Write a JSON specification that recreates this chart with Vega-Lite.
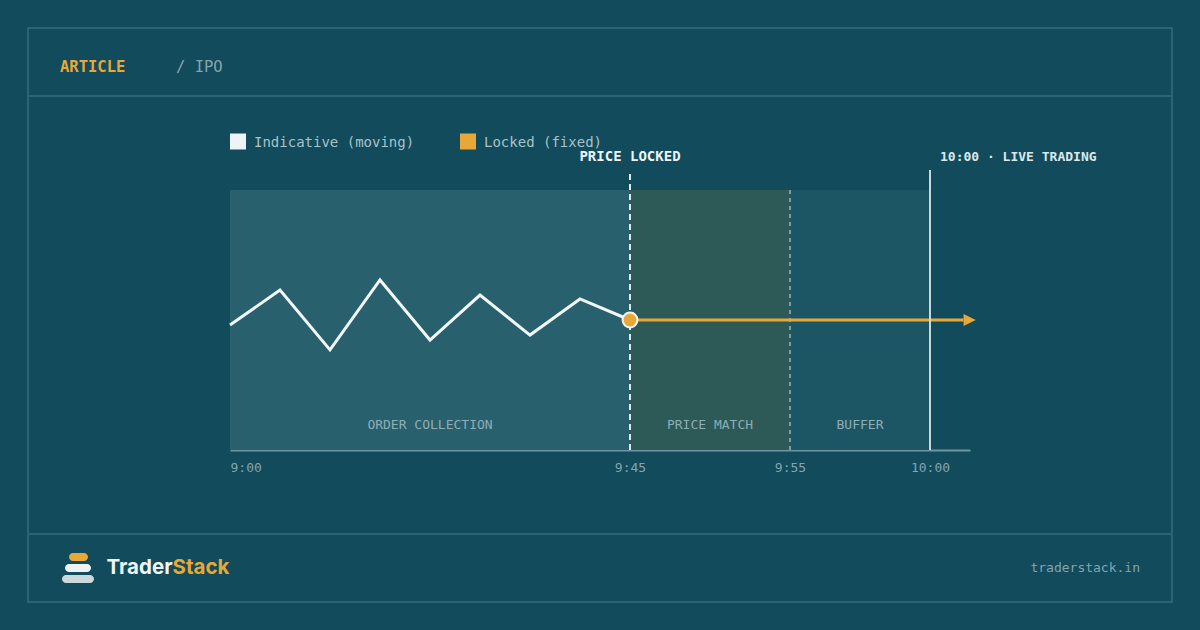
{
  "$schema": "https://vega.github.io/schema/vega-lite/v6.json",
  "width": 1200,
  "height": 630,
  "autosize": "none",
  "padding": 0,
  "background": "#114b5c",
  "config": {"view": {"stroke": null}, "text": {"font": "DejaVu Sans Mono"}},
  "datasets": {
    "price": [
      {"t": 0, "value": 48.1, "series": "Indicative"},
      {"t": 5.625, "value": 61.5, "series": "Indicative"},
      {"t": 11.25, "value": 38.5, "series": "Indicative"},
      {"t": 16.875, "value": 65.4, "series": "Indicative"},
      {"t": 22.5, "value": 42.3, "series": "Indicative"},
      {"t": 28.125, "value": 59.6, "series": "Indicative"},
      {"t": 33.75, "value": 44.2, "series": "Indicative"},
      {"t": 39.375, "value": 58.1, "series": "Indicative"},
      {"t": 45, "value": 50, "series": "Indicative"},
      {"t": 45, "value": 50, "series": "Locked"},
      {"t": 61.2, "value": 50, "series": "Locked"}
    ],
    "phases": [
      {"phase": "Order collection", "start": 0, "end": 45, "mid": 22.5, "lo": 0, "hi": 100, "label": "ORDER COLLECTION"},
      {"phase": "Price match", "start": 45, "end": 55, "mid": 50, "lo": 0, "hi": 100, "label": "PRICE MATCH"},
      {"phase": "Buffer", "start": 55, "end": 60, "mid": 57.5, "lo": 0, "hi": 100, "label": "BUFFER"}
    ],
    "markers": [
      {"t": 45, "base": 0, "top": 107.7, "kind": "lock"},
      {"t": 55, "base": 0, "top": 100, "kind": "match"},
      {"t": 60, "base": 0, "top": 107.7, "kind": "live"}
    ],
    "notes": [
      {"t": 45, "top": 100, "label": "PRICE LOCKED", "kind": "lock"},
      {"t": 60, "top": 100, "label": "10:00 · LIVE TRADING", "kind": "live"}
    ],
    "frame": [{"x": 28, "x2": 1172, "y": 28, "y2": 602}],
    "dividers": [{"x": 28, "x2": 1172, "y": 96}, {"x": 28, "x2": 1172, "y": 534}],
    "logo": [
      {"part": "top", "x": 69, "x2": 88, "y": 553, "y2": 561},
      {"part": "middle", "x": 65, "x2": 91, "y": 564, "y2": 572},
      {"part": "bottom", "x": 62, "x2": 94, "y": 575, "y2": 583}
    ],
    "legendKeys": [
      {"x": 238, "y": 141.5, "series": "Indicative"},
      {"x": 468, "y": 141.5, "series": "Locked"}
    ],
    "texts": [
      {"text": "ARTICLE", "x": 60, "y": 67, "role": "kicker"},
      {"text": "/ IPO", "x": 176, "y": 67, "role": "crumb"},
      {"text": "Indicative (moving)", "x": 254, "y": 142.5, "role": "legend"},
      {"text": "Locked (fixed)", "x": 484, "y": 142.5, "role": "legend"},
      {"text": "traderstack.in", "x": 1140, "y": 568, "role": "url"},
      {"text": "Trader", "x": 172.5, "y": 568, "role": "brand1"},
      {"text": "Stack", "x": 172.5, "y": 568, "role": "brand2"}
    ]
  },
  "resolve": {"scale": {"x": "independent", "y": "independent", "color": "independent", "fill": "independent"}},
  "layer": [
    {
      "layer": [
        {
          "data": {"name": "frame"},
          "mark": {"type": "rect", "fill": "transparent", "stroke": "#2a6575", "strokeWidth": 2},
          "encoding": {
            "x": {"field": "x", "type": "quantitative", "scale": {"domain": [0, 1200], "range": [0, 1200], "nice": false, "zero": false}, "axis": null},
            "x2": {"field": "x2"},
            "y": {"field": "y", "type": "quantitative", "scale": {"domain": [0, 630], "range": [0, 630], "nice": false, "zero": false}, "axis": null},
            "y2": {"field": "y2"}
          }
        },
        {
          "data": {"name": "dividers"},
          "mark": {"type": "rule", "stroke": "#2a6575", "strokeWidth": 2},
          "encoding": {
            "x": {"field": "x", "type": "quantitative", "axis": null},
            "x2": {"field": "x2"},
            "y": {"field": "y", "type": "quantitative", "axis": null}
          }
        },
        {
          "data": {"name": "logo"},
          "mark": {"type": "rect", "cornerRadius": 4},
          "encoding": {
            "x": {"field": "x", "type": "quantitative", "axis": null},
            "x2": {"field": "x2"},
            "y": {"field": "y", "type": "quantitative", "axis": null},
            "y2": {"field": "y2"},
            "fill": {"field": "part", "type": "nominal", "scale": {"domain": ["top", "middle", "bottom"], "range": ["#e8a838", "#eef4f5", "#cdd8db"]}, "legend": null}
          }
        },
        {
          "data": {"name": "legendKeys"},
          "mark": {"type": "point", "shape": "square", "filled": true, "size": 256, "opacity": 1},
          "encoding": {
            "x": {"field": "x", "type": "quantitative", "axis": null},
            "y": {"field": "y", "type": "quantitative", "axis": null},
            "color": {"field": "series", "type": "nominal", "scale": {"domain": ["Indicative", "Locked"], "range": ["#eef4f5", "#e8a838"]}, "legend": null}
          }
        },
        {
          "data": {"name": "texts"},
          "transform": [{"filter": "datum.role == 'kicker'"}],
          "mark": {"type": "text", "font": "DejaVu Sans Mono", "fontWeight": "bold", "fontSize": 15.5, "color": "#e8a838", "align": "left", "baseline": "middle"},
          "encoding": {"x": {"field": "x", "type": "quantitative", "axis": null}, "y": {"field": "y", "type": "quantitative", "axis": null}, "text": {"field": "text", "type": "nominal"}}
        },
        {
          "data": {"name": "texts"},
          "transform": [{"filter": "datum.role == 'crumb'"}],
          "mark": {"type": "text", "font": "DejaVu Sans Mono", "fontSize": 15.5, "color": "#86a5ad", "align": "left", "baseline": "middle"},
          "encoding": {"x": {"field": "x", "type": "quantitative", "axis": null}, "y": {"field": "y", "type": "quantitative", "axis": null}, "text": {"field": "text", "type": "nominal"}}
        },
        {
          "data": {"name": "texts"},
          "transform": [{"filter": "datum.role == 'legend'"}],
          "mark": {"type": "text", "font": "DejaVu Sans Mono", "fontSize": 14, "color": "#a9c2c8", "align": "left", "baseline": "middle"},
          "encoding": {"x": {"field": "x", "type": "quantitative", "axis": null}, "y": {"field": "y", "type": "quantitative", "axis": null}, "text": {"field": "text", "type": "nominal"}}
        },
        {
          "data": {"name": "texts"},
          "transform": [{"filter": "datum.role == 'url'"}],
          "mark": {"type": "text", "font": "DejaVu Sans Mono", "fontSize": 13, "color": "#86a5ad", "align": "right", "baseline": "middle"},
          "encoding": {"x": {"field": "x", "type": "quantitative", "axis": null}, "y": {"field": "y", "type": "quantitative", "axis": null}, "text": {"field": "text", "type": "nominal"}}
        },
        {
          "data": {"name": "texts"},
          "transform": [{"filter": "datum.role == 'brand1'"}],
          "mark": {"type": "text", "font": "Inter", "fontWeight": "bold", "fontSize": 20.5, "color": "#f0f5f6", "align": "right", "baseline": "middle"},
          "encoding": {"x": {"field": "x", "type": "quantitative", "axis": null}, "y": {"field": "y", "type": "quantitative", "axis": null}, "text": {"field": "text", "type": "nominal"}}
        },
        {
          "data": {"name": "texts"},
          "transform": [{"filter": "datum.role == 'brand2'"}],
          "mark": {"type": "text", "font": "Inter", "fontWeight": "bold", "fontSize": 20.5, "color": "#e8a838", "align": "left", "baseline": "middle"},
          "encoding": {"x": {"field": "x", "type": "quantitative", "axis": null}, "y": {"field": "y", "type": "quantitative", "axis": null}, "text": {"field": "text", "type": "nominal"}}
        }
      ]
    },
    {
      "layer": [
        {
          "data": {"name": "phases"},
          "mark": {"type": "rect"},
          "encoding": {
            "x": {
              "field": "start", "type": "quantitative",
              "scale": {"domain": [0, 45, 55, 60, 61.43], "range": [230, 630, 790, 930, 970], "nice": false, "zero": false},
              "axis": {
                "orient": "bottom", "offset": -180, "values": [0, 45, 55, 60],
                "labelExpr": "datum.value == 0 ? '9:00' : datum.value == 45 ? '9:45' : datum.value == 55 ? '9:55' : '10:00'",
                "domain": true, "domainColor": "#6f96a0", "domainWidth": 2,
                "ticks": false, "grid": false, "title": null,
                "labelFont": "DejaVu Sans Mono", "labelFontSize": 13, "labelColor": "#84a5ae",
                "labelPadding": 11, "labelFlush": true, "labelOverlap": false
              }
            },
            "x2": {"field": "end"},
            "y": {"field": "lo", "type": "quantitative", "scale": {"domain": [0, 100], "range": [450, 190], "nice": false, "zero": false}, "axis": null},
            "y2": {"field": "hi"},
            "fill": {"field": "phase", "type": "nominal", "scale": {"domain": ["Order collection", "Price match", "Buffer"], "range": ["#29606d", "#2d5a56", "#1c5665"]}, "legend": null}
          }
        },
        {
          "data": {"name": "phases"},
          "mark": {"type": "text", "font": "DejaVu Sans Mono", "fontSize": 13, "color": "#8eadb5", "dy": -25, "baseline": "middle", "align": "center"},
          "encoding": {
            "x": {"field": "mid", "type": "quantitative"},
            "y": {"field": "lo", "type": "quantitative", "axis": null},
            "text": {"field": "label", "type": "nominal"}
          }
        },
        {
          "data": {"name": "markers"},
          "transform": [{"filter": "datum.kind == 'match'"}],
          "mark": {"type": "rule", "stroke": "#7d9ea6", "strokeWidth": 2, "strokeDash": [4, 4]},
          "encoding": {"x": {"field": "t", "type": "quantitative"}, "y": {"field": "base", "type": "quantitative", "axis": null}, "y2": {"field": "top"}}
        },
        {
          "data": {"name": "markers"},
          "transform": [{"filter": "datum.kind == 'lock'"}],
          "mark": {"type": "rule", "stroke": "#dfe8eb", "strokeWidth": 2, "strokeDash": [6, 4]},
          "encoding": {"x": {"field": "t", "type": "quantitative"}, "y": {"field": "base", "type": "quantitative", "axis": null}, "y2": {"field": "top"}}
        },
        {
          "data": {"name": "price"},
          "mark": {"type": "line", "strokeWidth": 3, "strokeJoin": "miter"},
          "encoding": {
            "x": {"field": "t", "type": "quantitative"},
            "y": {"field": "value", "type": "quantitative", "axis": null},
            "color": {"field": "series", "type": "nominal", "scale": {"domain": ["Indicative", "Locked"], "range": ["#f2f7f7", "#e8a838"]}, "legend": null}
          }
        },
        {
          "data": {"name": "markers"},
          "transform": [{"filter": "datum.kind == 'live'"}],
          "mark": {"type": "rule", "stroke": "#c9d8dc", "strokeWidth": 2},
          "encoding": {"x": {"field": "t", "type": "quantitative"}, "y": {"field": "base", "type": "quantitative", "axis": null}, "y2": {"field": "top"}}
        },
        {
          "data": {"name": "price"},
          "transform": [{"filter": "datum.series == 'Locked' && datum.t == 45"}],
          "mark": {"type": "point", "shape": "circle", "filled": true, "fill": "#e8a838", "stroke": "#f2f7f7", "strokeWidth": 2, "size": 220, "opacity": 1},
          "encoding": {"x": {"field": "t", "type": "quantitative"}, "y": {"field": "value", "type": "quantitative", "axis": null}}
        },
        {
          "data": {"name": "price"},
          "transform": [{"filter": "datum.series == 'Locked' && datum.t > 60"}],
          "mark": {"type": "point", "shape": "M 0 -1 L 2 0 L 0 1 Z", "filled": true, "color": "#e8a838", "size": 150, "opacity": 1},
          "encoding": {"x": {"field": "t", "type": "quantitative"}, "y": {"field": "value", "type": "quantitative", "axis": null}}
        },
        {
          "data": {"name": "notes"},
          "transform": [{"filter": "datum.kind == 'lock'"}],
          "mark": {"type": "text", "font": "DejaVu Sans Mono", "fontWeight": "bold", "fontSize": 14, "color": "#eef4f5", "align": "center", "baseline": "middle", "dy": -33},
          "encoding": {"x": {"field": "t", "type": "quantitative"}, "y": {"field": "top", "type": "quantitative", "axis": null}, "text": {"field": "label", "type": "nominal"}}
        },
        {
          "data": {"name": "notes"},
          "transform": [{"filter": "datum.kind == 'live'"}],
          "mark": {"type": "text", "font": "DejaVu Sans Mono", "fontWeight": "bold", "fontSize": 13, "color": "#dde8ea", "align": "left", "baseline": "middle", "dx": 10, "dy": -33},
          "encoding": {"x": {"field": "t", "type": "quantitative"}, "y": {"field": "top", "type": "quantitative", "axis": null}, "text": {"field": "label", "type": "nominal"}}
        }
      ]
    }
  ]
}
